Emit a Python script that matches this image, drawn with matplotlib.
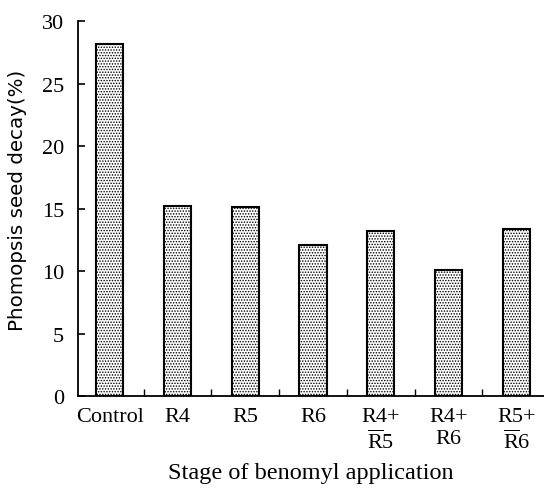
import matplotlib
matplotlib.use("Agg")
import matplotlib.pyplot as plt
import numpy as np

categories = ["Control", "R4", "R5", "R6", "R4+\n$\\overline{\\mathrm{R}}$5", "R4+\nR6", "R5+\n$\\overline{\\mathrm{R}}$6"]
values = [28.2, 15.2, 15.1, 12.1, 13.2, 10.1, 13.4]
yticks = [0, 5, 10, 15, 20, 25, 30]

plt.rcParams['mathtext.fontset'] = 'custom'
plt.rcParams['mathtext.rm'] = 'Liberation Serif'
plt.rcParams['hatch.linewidth'] = 0.7

fig = plt.figure(figsize=(5.44, 4.89), dpi=100)
ax = fig.add_axes([0.1434, 0.188, 0.8566, 0.767])

x = np.arange(len(categories))
ax.bar(x, values, width=0.4, color='white', edgecolor='black', linewidth=1.5, hatch='......')

ax.set_xlim(-0.47, 6.41)
ax.set_ylim(0, 30)
ax.spines['top'].set_visible(False)
ax.spines['right'].set_visible(False)
ax.spines['left'].set_linewidth(1.3)
ax.spines['bottom'].set_linewidth(1.3)

ax.set_yticks(yticks)
ax.set_yticklabels([str(v) for v in yticks], family='Liberation Serif', fontsize=16)
ax.tick_params(axis='y', direction='in', length=5, width=1.2, pad=10)

ax.set_xticks(x)
ax.set_xticklabels(categories, family='Liberation Serif', fontsize=16, linespacing=1.2, va='top')
ax.tick_params(axis='x', length=0, pad=8)
ax.set_xticks(x[:-1] + 0.5, minor=True)
ax.tick_params(axis='x', which='minor', direction='in', length=5, width=1.0)

ax.set_ylabel("Phomopsis seed decay(%)", family='DejaVu Sans', fontsize=14.3)
ax.yaxis.set_label_coords(-0.11, 0.525)
ax.set_xlabel("Stage of benomyl application", family='Liberation Serif', fontsize=17.5, labelpad=6)

fig.savefig("out.png", dpi=100)
